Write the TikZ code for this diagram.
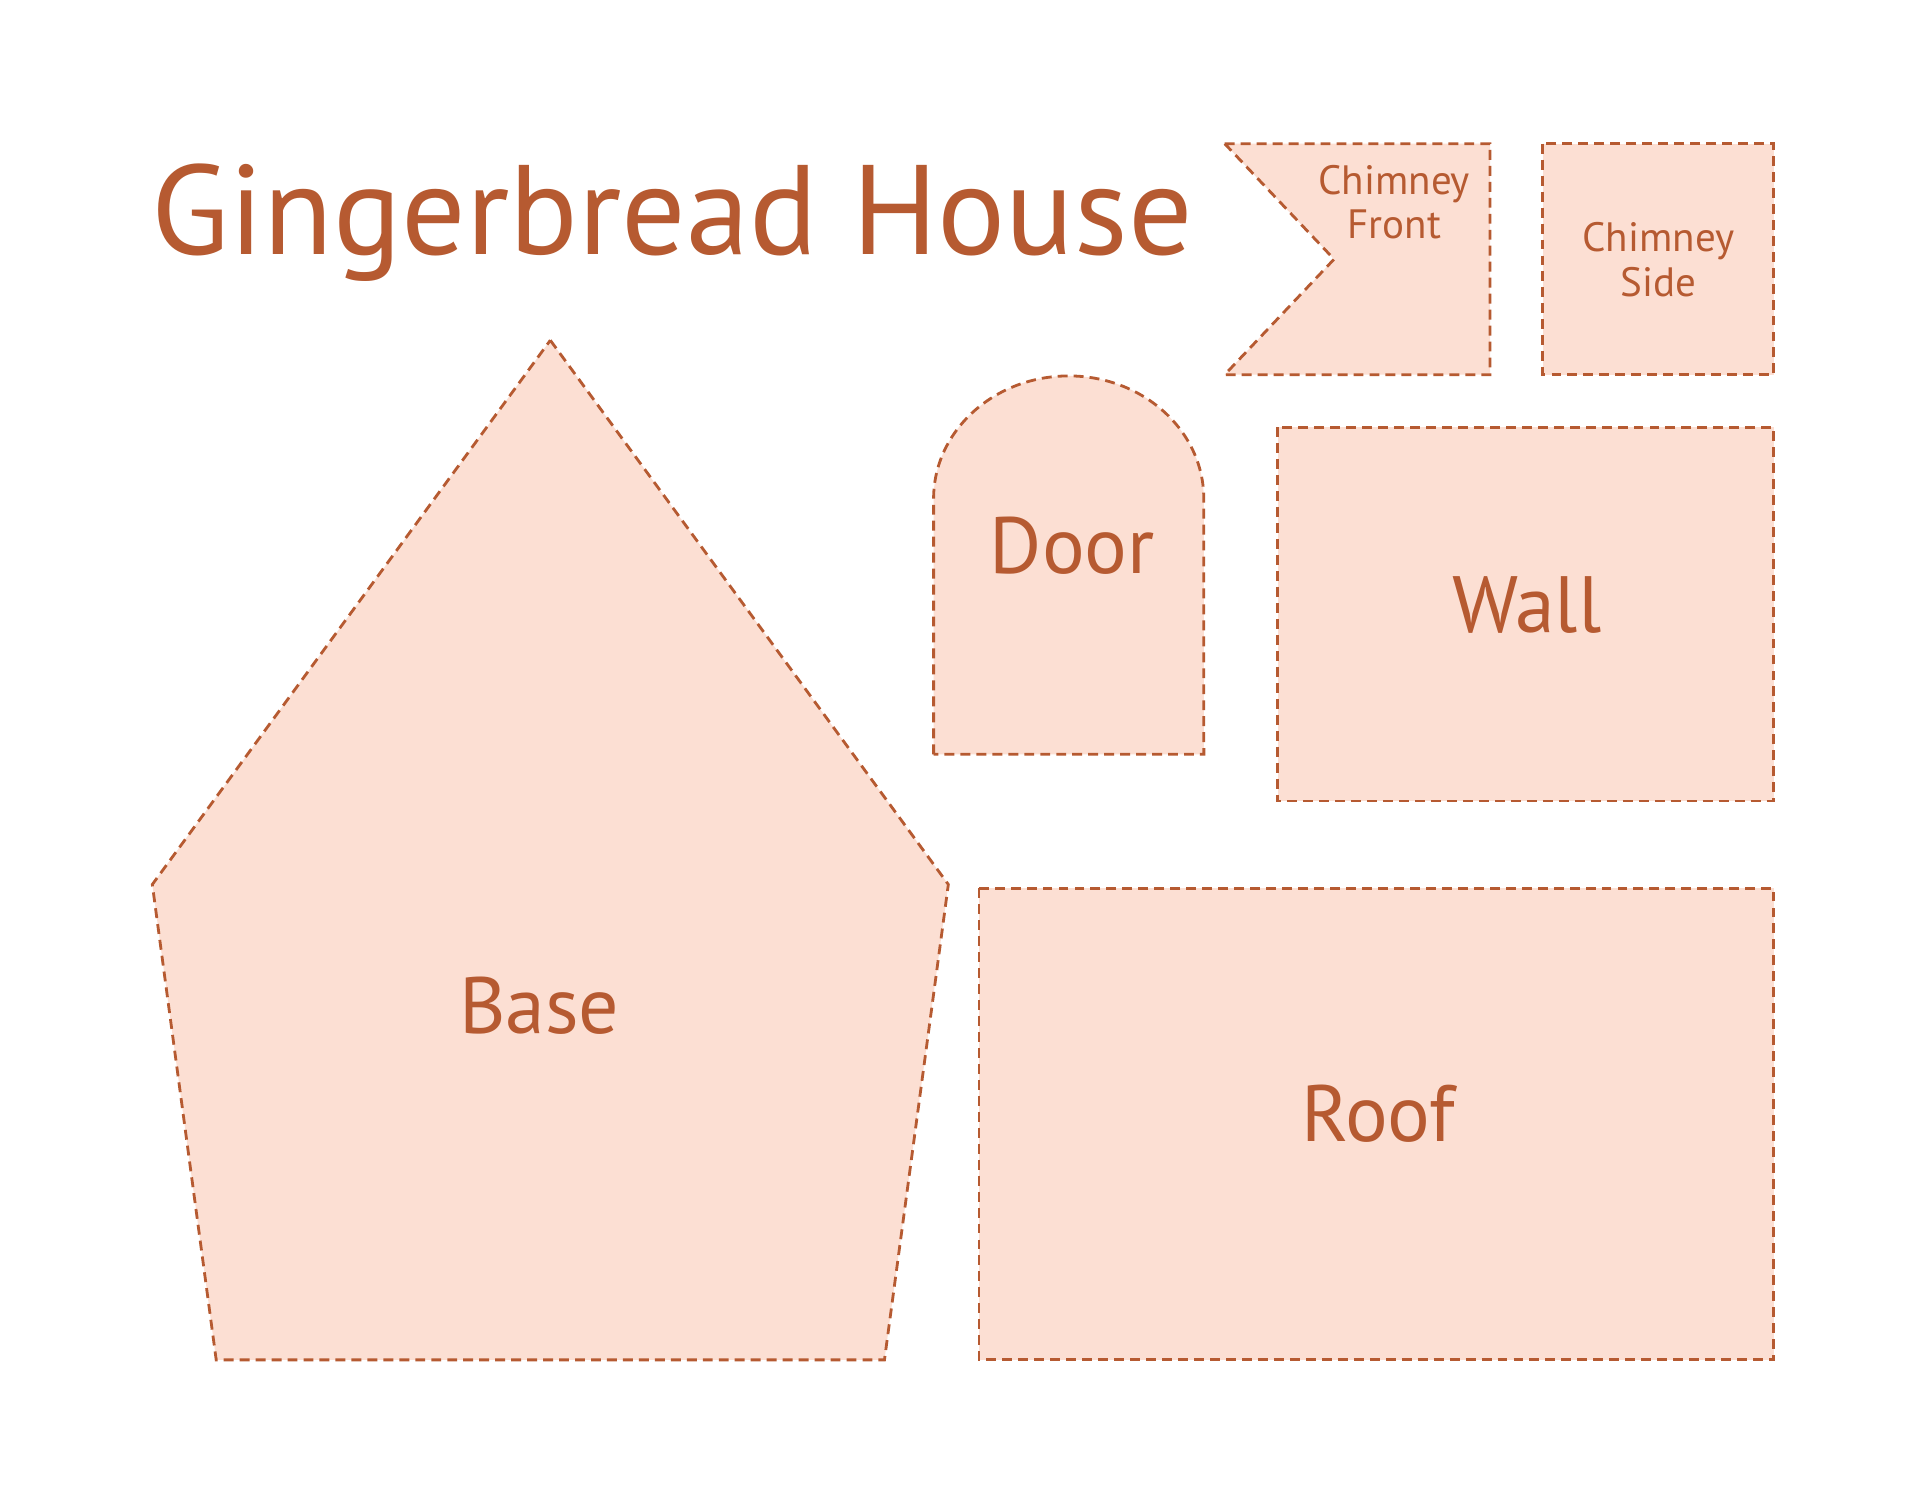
\documentclass[tikz,border=0pt]{standalone}
\usepackage{fontspec}
\setmainfont{PT Sans}
\definecolor{ginger}{HTML}{B65A31}
\definecolor{dough}{HTML}{FCDFD3}
\begin{document}
\begin{tikzpicture}[x=0.02cm,y=-0.02cm,
  piece/.style={fill=dough,draw=ginger,line width=1.3pt,dash pattern=on 4.6pt off 2.8pt,line join=miter},
  lbl/.style={text=ginger,inner sep=0pt,anchor=base},
  biglbl/.style={lbl,font=\fontsize{37}{42}\selectfont},
  smalllbl/.style={lbl,font=\fontsize{19}{22}\selectfont}]
\useasboundingbox[fill=white] (0,0) rectangle (1563,1221);
% Base
\draw[piece] (448,277) -- (772,720) -- (720,1107) -- (176,1107) -- (124,720) -- cycle;
% Roof
\draw[piece] (797,723) rectangle (1444,1107);
% Wall
\draw[piece] (1040,348) rectangle (1444,652);
% Chimney side
\draw[piece] (1256,117) rectangle (1444,305);
% Chimney front
\draw[piece] (997,117) -- (1213,117) -- (1213,305) -- (997,305) -- (1086,211) -- cycle;
% Door
\draw[piece] (760,614) -- (760,406) arc[start angle=180,end angle=0,x radius=2.2cm,y radius=2cm] -- (980,614) -- cycle;
% Labels
\node[lbl,anchor=base west,font=\fontsize{59}{68}\selectfont] (title) at (123,207) {Gingerbread House};
\node[smalllbl] (cf1) at (1135,158) {Chimney};
\node[smalllbl] (cf2) at (1135,194) {Front};
\node[smalllbl] (cs1) at (1350,205) {Chimney};
\node[smalllbl] (cs2) at (1350,241) {Side};
\node[biglbl] (door) at (873,467) {Door};
\node[biglbl] (wall) at (1243,515) {Wall};
\node[biglbl] (base) at (439,841) {Base};
\node[biglbl] (roof) at (1122,929) {Roof};
\end{tikzpicture}
\end{document}
